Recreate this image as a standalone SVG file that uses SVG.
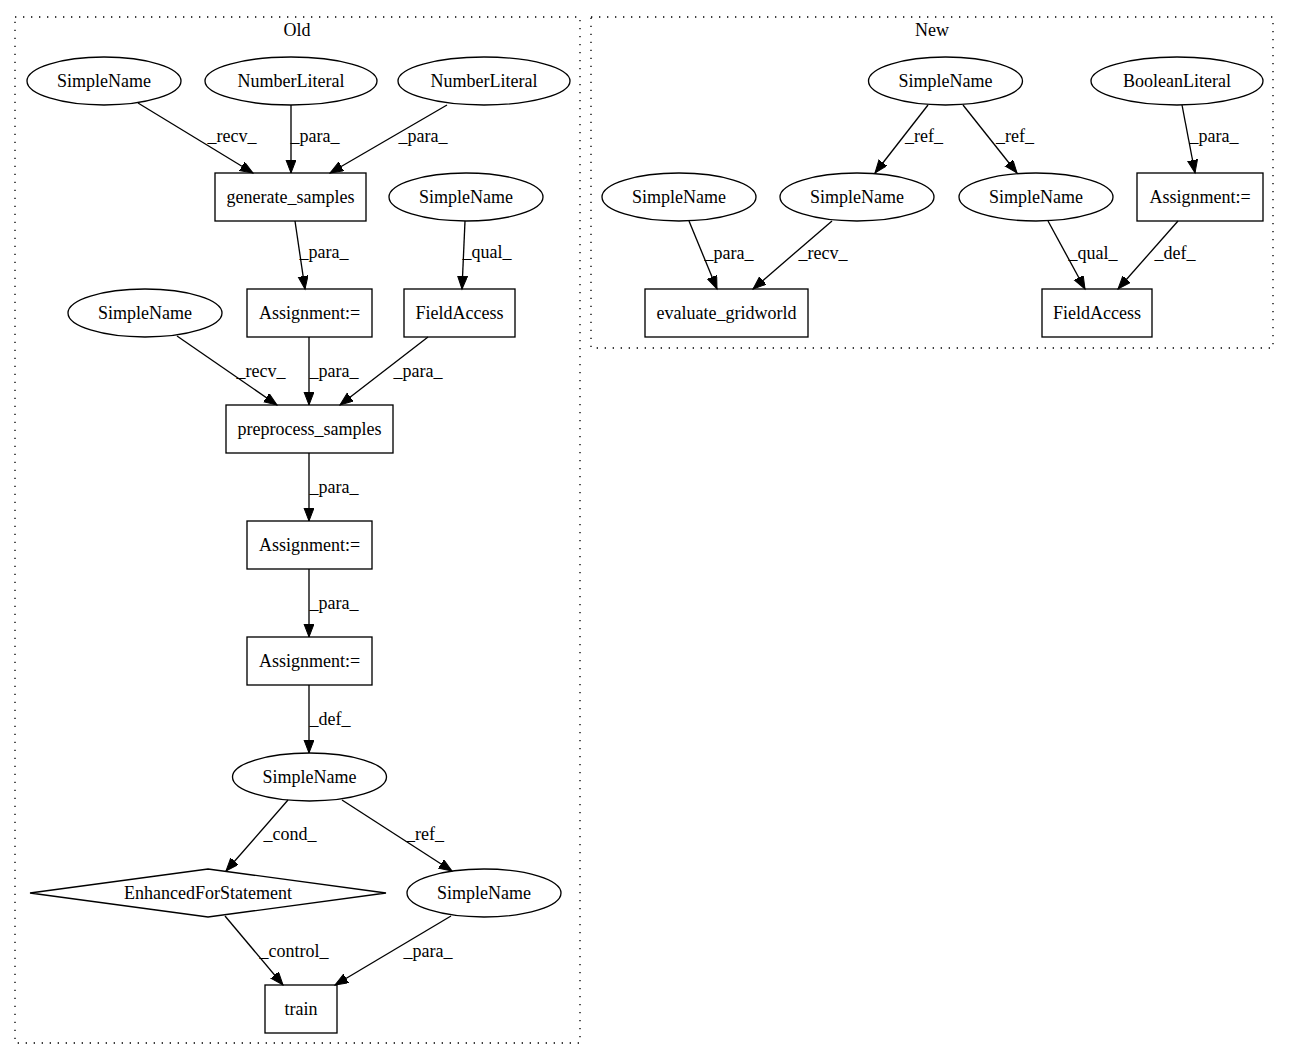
<svg xmlns="http://www.w3.org/2000/svg" width="1289" height="1060" viewBox="0 0 1289 1060">
<defs>
<style>
text{font-family:"Liberation Serif","Times New Roman",serif;font-size:18px;fill:#000;text-anchor:middle}
.n{fill:none;stroke:#000;stroke-width:1.33}
.c{fill:none;stroke:#000;stroke-width:1.33;stroke-dasharray:1.33,6.67}
.e{fill:none;stroke:#000;stroke-width:1.33;marker-end:url(#ah)}
</style>
<marker id="ah" markerUnits="userSpaceOnUse" markerWidth="15" markerHeight="12" refX="13" refY="5" orient="auto">
<path d="M0,0 L13,5 L0,10 z" fill="#000" stroke="#000" stroke-width="1"/>
</marker>
</defs>
<rect width="1289" height="1060" fill="#fff"/>
<g id="cluster_old">
<rect class="c" x="15" y="17" width="565" height="1026"/>
<text x="297" y="36">Old</text>
</g>
<g id="cluster_new">
<rect class="c" x="591" y="17" width="682" height="331"/>
<text x="932" y="36">New</text>
</g>
<g id="edges">
<line class="e" x1="138" y1="103" x2="253" y2="173"/>
<text x="232" y="142">_recv_</text>
<line class="e" x1="291" y1="105" x2="291" y2="173"/>
<text x="315" y="142">_para_</text>
<line class="e" x1="447" y1="105" x2="330" y2="173"/>
<text x="423" y="142">_para_</text>
<line class="e" x1="295" y1="221" x2="305" y2="289"/>
<text x="324" y="258">_para_</text>
<line class="e" x1="465" y1="221" x2="462" y2="289"/>
<text x="487" y="258">_qual_</text>
<line class="e" x1="177" y1="336" x2="277" y2="405"/>
<text x="261" y="377">_recv_</text>
<line class="e" x1="309" y1="337" x2="309" y2="405"/>
<text x="334" y="377">_para_</text>
<line class="e" x1="428" y1="337" x2="340" y2="405"/>
<text x="418" y="377">_para_</text>
<line class="e" x1="309" y1="453" x2="309" y2="521"/>
<text x="334" y="493">_para_</text>
<line class="e" x1="309" y1="569" x2="309" y2="637"/>
<text x="334" y="609">_para_</text>
<line class="e" x1="309" y1="685" x2="309" y2="753"/>
<text x="330" y="725">_def_</text>
<line class="e" x1="288" y1="800" x2="226" y2="871"/>
<text x="290" y="840">_cond_</text>
<line class="e" x1="342" y1="800" x2="452" y2="871"/>
<text x="425" y="840">_ref_</text>
<line class="e" x1="225" y1="916" x2="283" y2="985"/>
<text x="294" y="957">_control_</text>
<line class="e" x1="451" y1="916" x2="335" y2="985"/>
<text x="428" y="957">_para_</text>
<line class="e" x1="928" y1="105" x2="875" y2="173"/>
<text x="924" y="142">_ref_</text>
<line class="e" x1="963" y1="105" x2="1017" y2="173"/>
<text x="1015" y="142">_ref_</text>
<line class="e" x1="1182" y1="105" x2="1195" y2="173"/>
<text x="1214" y="142">_para_</text>
<line class="e" x1="689" y1="221" x2="717" y2="289"/>
<text x="729" y="259">_para_</text>
<line class="e" x1="832" y1="221" x2="753" y2="289"/>
<text x="823" y="259">_recv_</text>
<line class="e" x1="1048" y1="221" x2="1085" y2="289"/>
<text x="1093" y="259">_qual_</text>
<line class="e" x1="1178" y1="221" x2="1118" y2="289"/>
<text x="1175" y="259">_def_</text>
</g>
<g id="old_simplename_recv1"><ellipse class="n" cx="104" cy="81" rx="77" ry="24"/><text x="104" y="87">SimpleName</text></g>
<g id="old_numberliteral1"><ellipse class="n" cx="291" cy="81" rx="86" ry="24"/><text x="291" y="87">NumberLiteral</text></g>
<g id="old_numberliteral2"><ellipse class="n" cx="484" cy="81" rx="86" ry="24"/><text x="484" y="87">NumberLiteral</text></g>
<g id="old_generate_samples"><rect class="n" x="215" y="173" width="151" height="48"/><text x="290.5" y="203">generate_samples</text></g>
<g id="old_simplename_qual"><ellipse class="n" cx="466" cy="197" rx="77" ry="24"/><text x="466" y="203">SimpleName</text></g>
<g id="old_assignment1"><rect class="n" x="247" y="289" width="125" height="48"/><text x="309.5" y="319">Assignment:=</text></g>
<g id="old_fieldaccess"><rect class="n" x="404" y="289" width="111" height="48"/><text x="459.5" y="319">FieldAccess</text></g>
<g id="old_simplename_recv2"><ellipse class="n" cx="145" cy="313" rx="77" ry="24"/><text x="145" y="319">SimpleName</text></g>
<g id="old_preprocess_samples"><rect class="n" x="226" y="405" width="167" height="48"/><text x="309.5" y="435">preprocess_samples</text></g>
<g id="old_assignment2"><rect class="n" x="247" y="521" width="125" height="48"/><text x="309.5" y="551">Assignment:=</text></g>
<g id="old_assignment3"><rect class="n" x="247" y="637" width="125" height="48"/><text x="309.5" y="667">Assignment:=</text></g>
<g id="old_simplename_def"><ellipse class="n" cx="309.5" cy="777" rx="77" ry="24"/><text x="309.5" y="783">SimpleName</text></g>
<g id="old_enhancedfor"><polygon class="n" points="208,869 386,893 208,917 30,893"/><text x="208" y="899">EnhancedForStatement</text></g>
<g id="old_simplename_ref"><ellipse class="n" cx="484" cy="893" rx="77" ry="24"/><text x="484" y="899">SimpleName</text></g>
<g id="old_train"><rect class="n" x="265" y="985" width="72" height="48"/><text x="301" y="1015">train</text></g>
<g id="new_simplename_top"><ellipse class="n" cx="945.5" cy="81" rx="77" ry="24"/><text x="945.5" y="87">SimpleName</text></g>
<g id="new_booleanliteral"><ellipse class="n" cx="1177" cy="81" rx="86" ry="24"/><text x="1177" y="87">BooleanLiteral</text></g>
<g id="new_simplename_para"><ellipse class="n" cx="679" cy="197" rx="77" ry="24"/><text x="679" y="203">SimpleName</text></g>
<g id="new_simplename_recv"><ellipse class="n" cx="857" cy="197" rx="77" ry="24"/><text x="857" y="203">SimpleName</text></g>
<g id="new_simplename_qual"><ellipse class="n" cx="1036" cy="197" rx="77" ry="24"/><text x="1036" y="203">SimpleName</text></g>
<g id="new_assignment"><rect class="n" x="1137" y="173" width="126" height="48"/><text x="1200" y="203">Assignment:=</text></g>
<g id="new_evaluate_gridworld"><rect class="n" x="645" y="289" width="163" height="48"/><text x="726.5" y="319">evaluate_gridworld</text></g>
<g id="new_fieldaccess"><rect class="n" x="1042" y="289" width="110" height="48"/><text x="1097" y="319">FieldAccess</text></g>
</svg>
